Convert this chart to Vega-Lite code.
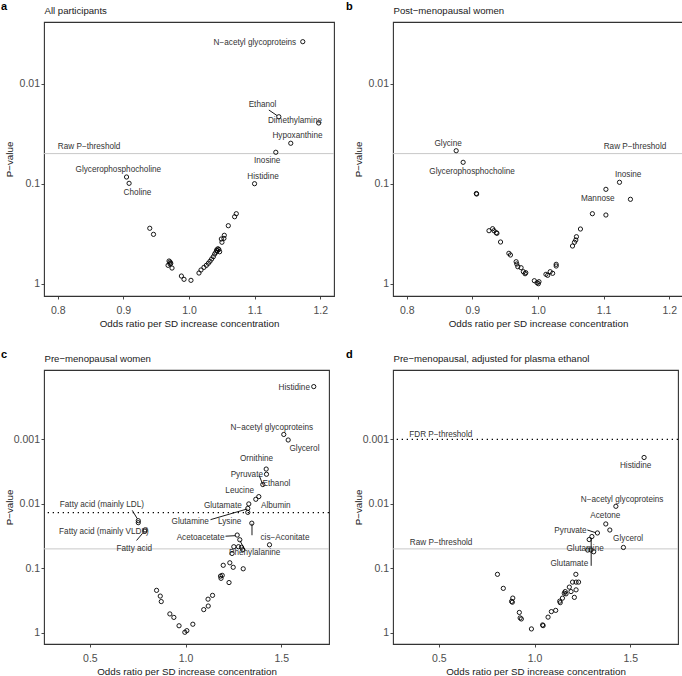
{
  "$schema": "https://vega.github.io/schema/vega-lite/v6.json",
  "padding": {"left": 0, "top": 0, "right": 0, "bottom": 0},
  "columns": 2,
  "spacing": {"row": 74, "column": 59},
  "bounds": "flush",
  "datasets": {
    "a_points": [
      {"or":1.1734,"p":0.0038},{"or":1.1369,"p":0.0214},{"or":1.1977,"p":0.0247},{"or":1.1551,"p":0.0394},{"or":1.1323,"p":0.0485},{"or":1.0999,"p":0.100},{"or":0.9048,"p":0.0857},{"or":0.9087,"p":0.0991},{"or":0.9402,"p":0.279},{"or":0.9459,"p":0.321},{"or":0.9696,"p":0.593},{"or":0.9711,"p":0.607},{"or":0.9722,"p":0.625},{"or":0.9681,"p":0.655},{"or":0.9741,"p":0.697},{"or":0.9711,"p":0.635},{"or":0.9884,"p":0.838},{"or":0.9924,"p":0.904},{"or":1.003,"p":0.925},{"or":1.0152,"p":0.782},{"or":1.0183,"p":0.729},{"or":1.0228,"p":0.686},{"or":1.0265,"p":0.655},{"or":1.0295,"p":0.625},{"or":1.032,"p":0.597},{"or":1.0345,"p":0.566},{"or":1.0371,"p":0.537},{"or":1.0391,"p":0.505},{"or":1.0421,"p":0.460},{"or":1.0441,"p":0.447},{"or":1.0467,"p":0.479},{"or":1.041,"p":0.485},{"or":1.0502,"p":0.385},{"or":1.0493,"p":0.357},{"or":1.0538,"p":0.328},{"or":1.0532,"p":0.352},{"or":1.0599,"p":0.263},{"or":1.0695,"p":0.214},{"or":1.0721,"p":0.1995},{"or":1.0431,"p":0.468},{"or":1.0455,"p":0.455}
    ],
    "a_labels": [
      {"label":"N−acetyl glycoproteins","or":1.1004,"p":0.00389},
      {"label":"Ethanol","or":1.1121,"p":0.01644},
      {"label":"Dimethylamine","or":1.1615,"p":0.02377},
      {"label":"Hypoxanthine","or":1.1653,"p":0.03357},
      {"label":"Inosine","or":1.1192,"p":0.0597},
      {"label":"Histidine","or":1.1129,"p":0.0851},
      {"label":"Glycerophosphocholine","or":0.8923,"p":0.0735},
      {"label":"Choline","or":0.9215,"p":0.123}
    ],
    "a_segs": [
      {"or":1.1217,"p":0.01832,"or2":1.1341,"p2":0.0208}
    ],
    "a_raw": [{"p":0.05}],
    "a_thr_text": [{"label":"Raw P−threshold","or":0.8,"p":0.043}],
    "b_points": [
      {"or":0.8753,"p":0.0468},{"or":0.8859,"p":0.0611},{"or":0.906,"p":0.1253},{"or":0.9065,"p":0.1268},{"or":0.9253,"p":0.2951},{"or":0.9308,"p":0.2818},{"or":0.9329,"p":0.2951},{"or":0.9364,"p":0.309},{"or":0.9374,"p":0.3133},{"or":0.9429,"p":0.3828},{"or":0.9556,"p":0.4966},{"or":0.958,"p":0.5164},{"or":0.9667,"p":0.6026},{"or":0.9677,"p":0.6353},{"or":0.9692,"p":0.6761},{"or":0.9742,"p":0.6918},{"or":0.9777,"p":0.7586},{"or":0.9814,"p":0.7762},{"or":0.9803,"p":0.7943},{"or":0.9944,"p":0.9333},{"or":0.9985,"p":0.9772},{"or":1.0015,"p":0.955},{"or":1.0005,"p":1.0},{"or":1.0121,"p":0.8054},{"or":1.0147,"p":0.8241},{"or":1.0186,"p":0.7586},{"or":1.0223,"p":0.787},{"or":1.0277,"p":0.6397},{"or":1.0277,"p":0.6653},{"or":1.0526,"p":0.4198},{"or":1.0556,"p":0.3855},{"or":1.0576,"p":0.3656},{"or":1.0586,"p":0.3388},{"or":1.0647,"p":0.2838},{"or":1.0829,"p":0.1995},{"or":1.1035,"p":0.2056},{"or":1.1035,"p":0.1138},{"or":1.1242,"p":0.0968},{"or":1.1409,"p":0.1432}
    ],
    "b_labels": [
      {"label":"Glycine","or":0.863,"p":0.0401},
      {"label":"Glycerophosphocholine","or":0.8995,"p":0.0764},
      {"label":"Mannose","or":1.0912,"p":0.1413},
      {"label":"Inosine","or":1.1374,"p":0.0824}
    ],
    "b_raw": [{"p":0.05}],
    "b_thr_text": [{"label":"Raw P−threshold","or":1.1955,"p":0.043}],
    "c_points": [
      {"or":1.6703,"p":0.000151},{"or":1.5136,"p":0.000836},{"or":1.5366,"p":0.001019},{"or":1.4216,"p":0.00288},{"or":1.4232,"p":0.00347},{"or":1.4039,"p":0.00501},{"or":1.383,"p":0.00771},{"or":1.3673,"p":0.00849},{"or":1.3307,"p":0.01002},{"or":1.3255,"p":0.01175},{"or":1.3255,"p":0.01355},{"or":1.3464,"p":0.01995},{"or":1.2701,"p":0.0305},{"or":1.2837,"p":0.0361},{"or":1.2524,"p":0.0463},{"or":1.2769,"p":0.0463},{"or":1.2926,"p":0.0472},{"or":1.2994,"p":0.0515},{"or":1.243,"p":0.0589},{"or":1.4389,"p":0.0432},{"or":1.197,"p":0.0899},{"or":1.2315,"p":0.0822},{"or":1.2492,"p":0.0966},{"or":1.3015,"p":0.1019},{"or":1.1829,"p":0.1324},{"or":1.1855,"p":0.1432},{"or":1.1917,"p":0.1288},{"or":1.2273,"p":0.1667},{"or":1.1411,"p":0.2636},{"or":1.1176,"p":0.302},{"or":1.1186,"p":0.386},{"or":1.0951,"p":0.4385},{"or":0.8485,"p":0.2203},{"or":0.8678,"p":0.2704},{"or":0.873,"p":0.3289},{"or":0.918,"p":0.5117},{"or":0.9389,"p":0.5794},{"or":0.966,"p":0.7816},{"or":0.9963,"p":0.9863},{"or":1.0068,"p":0.931},{"or":1.0381,"p":0.7396},{"or":0.7529,"p":0.01824},{"or":0.7529,"p":0.01959},{"or":0.7884,"p":0.02535},{"or":0.7874,"p":0.02655}
    ],
    "c_labels": [
      {"label":"Histidine","or":1.5684,"p":0.0001567},
      {"label":"N−acetyl glycoproteins","or":1.4509,"p":0.0006745},
      {"label":"Glycerol","or":1.6217,"p":0.001429},
      {"label":"Ornithine","or":1.371,"p":0.001995},
      {"label":"Pyruvate","or":1.3203,"p":0.00354},
      {"label":"Ethanol","or":1.4754,"p":0.004887},
      {"label":"Leucine","or":1.2832,"p":0.006295},
      {"label":"Albumin","or":1.4718,"p":0.01091},
      {"label":"Glutamate","or":1.1949,"p":0.01091},
      {"label":"Glutamine","or":1.0246,"p":0.01888},
      {"label":"Lysine","or":1.2309,"p":0.01888},
      {"label":"Acetoacetate","or":1.0784,"p":0.03357},
      {"label":"cis−Aconitate","or":1.5199,"p":0.03388},
      {"label":"Phenylalanine","or":1.3615,"p":0.05888},
      {"label":"Fatty acid (mainly LDL)","or":0.5627,"p":0.01054},
      {"label":"Fatty acid (mainly VLDL)","or":0.5731,"p":0.02773},
      {"label":"Fatty acid","or":0.732,"p":0.0498}
    ],
    "c_segs": [
      {"or":0.7215,"p":0.01262,"or2":0.7476,"p2":0.01698},
      {"or":0.744,"p":0.037,"or2":0.7738,"p2":0.02904},
      {"or":1.385,"p":0.00363,"or2":1.4039,"p2":0.00501},
      {"or":1.1306,"p":0.01758,"or2":1.3224,"p2":0.012},
      {"or":1.209,"p":0.03177,"or2":1.2612,"p2":0.03119},
      {"or":1.2847,"p":0.03733,"or2":1.3109,"p2":0.05248},
      {"or":1.3474,"p":0.02032,"or2":1.3474,"p2":0.03069}
    ],
    "c_raw": [{"p":0.05}],
    "c_fdr": [{"p":0.0137}],
    "d_points": [
      {"or":1.5727,"p":0.001905},{"or":1.4252,"p":0.01091},{"or":1.3725,"p":0.02051},{"or":1.3936,"p":0.02547},{"or":1.3288,"p":0.02831},{"or":1.2998,"p":0.03214},{"or":1.2856,"p":0.03581},{"or":1.295,"p":0.05212},{"or":1.2777,"p":0.05212},{"or":1.3093,"p":0.05546},{"or":1.4647,"p":0.04753},{"or":1.216,"p":0.1242},{"or":1.1986,"p":0.1641},{"or":1.2171,"p":0.1641},{"or":1.2302,"p":0.1641},{"or":1.1818,"p":0.1963},{"or":1.1907,"p":0.2301},{"or":1.1602,"p":0.2301},{"or":1.1554,"p":0.2438},{"or":1.1644,"p":0.2495},{"or":1.2171,"p":0.2163},{"or":1.2081,"p":0.2831},{"or":1.1459,"p":0.2911},{"or":1.1317,"p":0.3243},{"or":1.1344,"p":0.342},{"or":1.1106,"p":0.4508},{"or":1.088,"p":0.471},{"or":1.0706,"p":0.5741},{"or":1.0421,"p":0.7586},{"or":1.0448,"p":0.778},{"or":0.9837,"p":0.875},{"or":0.931,"p":0.6124},{"or":0.9247,"p":0.5902},{"or":0.9204,"p":0.4853},{"or":0.8862,"p":0.2904},{"or":0.8841,"p":0.3365},{"or":0.8799,"p":0.3266},{"or":0.8367,"p":0.2051},{"or":0.8061,"p":0.1242}
    ],
    "d_labels": [
      {"label":"Histidine","or":1.5285,"p":0.002606},
      {"label":"N−acetyl glycoproteins","or":1.4578,"p":0.00859},
      {"label":"Acetone","or":1.3699,"p":0.01524},
      {"label":"Pyruvate","or":1.1881,"p":0.02636},
      {"label":"Glycerol","or":1.4892,"p":0.03565},
      {"label":"Glutamine","or":1.2645,"p":0.04977},
      {"label":"Glutamate","or":1.1818,"p":0.08511}
    ],
    "d_segs": [
      {"or":1.2761,"p":0.02547,"or2":1.3198,"p2":0.02805},
      {"or":1.2961,"p":0.09162,"or2":1.2961,"p2":0.03357}
    ],
    "d_raw": [{"p":0.05}],
    "d_fdr": [{"p":0.001}],
    "d_thr_text": [{"label":"FDR P−threshold","or":0.345,"p":0.000845},{"label":"Raw P−threshold","or":0.348,"p":0.0401}]
  },
  "concat": [
    {
      "width": 290, "height": 274,
      "title": {"text": "a", "anchor": "start", "frame": "group", "dx": -43, "offset": -15.7, "fontSize": 11, "fontWeight": "bold", "baseline": "alphabetic", "color": "#000000"},
      "layer": [
        {"mark": {"type": "rule", "color": "#c8c8c8", "strokeWidth": 1},
         "encoding": {"x": {"datum": 1, "type": "quantitative", "scale": {"domain": [0.779, 1.221], "zero": false, "nice": false},
           "axis": {"orient": "top", "title": "All participants", "labels": false, "ticks": false, "domain": false, "titleAnchor": "start", "titleAlign": "left", "titleBaseline": "alphabetic", "titleX": 0, "titleY": -9, "titleAngle": 0, "titleFontSize": 9.6}}}},
        {"data": {"name": "a_raw"}, "mark": {"type": "rule", "color": "#c8c8c8", "strokeWidth": 1},
         "encoding": {"y": {"field": "p", "type": "quantitative", "scale": {"type": "log", "domain": [0.002415, 1.327], "reverse": true, "nice": false},
           "axis": {"orient": "left", "title": "P−value", "values": [0.01, 0.1, 1], "format": "~g"}}}},
        {"data": {"name": "a_thr_text"}, "mark": {"type": "text", "align": "left", "baseline": "middle", "fontSize": 8.2},
         "encoding": {"x": {"field": "or", "type": "quantitative", "scale": {"domain": [0.779, 1.221], "zero": false, "nice": false}, "axis": null},
           "y": {"field": "p", "type": "quantitative", "scale": {"type": "log", "domain": [0.002415, 1.327], "reverse": true, "nice": false},
             "axis": {"orient": "left", "title": "P−value", "values": [0.01, 0.1, 1], "format": "~g"}},
           "text": {"field": "label"}}},
        {"data": {"name": "a_segs"}, "mark": {"type": "rule", "color": "#000000", "strokeWidth": 0.9},
         "encoding": {"x": {"field": "or", "type": "quantitative", "scale": {"domain": [0.779, 1.221], "zero": false, "nice": false}, "axis": null},
           "y": {"field": "p", "type": "quantitative", "scale": {"type": "log", "domain": [0.002415, 1.327], "reverse": true, "nice": false},
             "axis": {"orient": "left", "title": "P−value", "values": [0.01, 0.1, 1], "format": "~g"}},
           "x2": {"field": "or2"}, "y2": {"field": "p2"}}},
        {"data": {"name": "a_points"}, "mark": {"type": "point", "shape": "circle", "filled": false, "stroke": "#000000", "strokeWidth": 0.9, "size": 18, "opacity": 1},
         "encoding": {"x": {"field": "or", "type": "quantitative", "scale": {"domain": [0.779, 1.221], "zero": false, "nice": false},
             "axis": {"orient": "bottom", "title": "Odds ratio per SD increase concentration", "values": [0.8, 0.9, 1.0, 1.1, 1.2], "format": ".1f"}},
           "y": {"field": "p", "type": "quantitative", "scale": {"type": "log", "domain": [0.002415, 1.327], "reverse": true, "nice": false},
             "axis": {"orient": "left", "title": "P−value", "values": [0.01, 0.1, 1], "format": "~g"}}}},
        {"data": {"name": "a_labels"}, "mark": {"type": "text", "align": "center", "baseline": "middle", "fontSize": 8.2},
         "encoding": {"x": {"field": "or", "type": "quantitative", "scale": {"domain": [0.779, 1.221], "zero": false, "nice": false}, "axis": null},
           "y": {"field": "p", "type": "quantitative", "scale": {"type": "log", "domain": [0.002415, 1.327], "reverse": true, "nice": false},
             "axis": {"orient": "left", "title": "P−value", "values": [0.01, 0.1, 1], "format": "~g"}},
           "text": {"field": "label"}}}
      ]
    },
    {
      "width": 290, "height": 274,
      "title": {"text": "b", "anchor": "start", "frame": "group", "dx": -47, "offset": -15.7, "fontSize": 11, "fontWeight": "bold", "baseline": "alphabetic", "color": "#000000"},
      "layer": [
        {"mark": {"type": "rule", "color": "#c8c8c8", "strokeWidth": 1},
         "encoding": {"x": {"datum": 1, "type": "quantitative", "scale": {"domain": [0.779, 1.221], "zero": false, "nice": false},
           "axis": {"orient": "top", "title": "Post−menopausal women", "labels": false, "ticks": false, "domain": false, "titleAnchor": "start", "titleAlign": "left", "titleBaseline": "alphabetic", "titleX": 0, "titleY": -9, "titleAngle": 0, "titleFontSize": 9.6}}}},
        {"data": {"name": "b_raw"}, "mark": {"type": "rule", "color": "#c8c8c8", "strokeWidth": 1},
         "encoding": {"y": {"field": "p", "type": "quantitative", "scale": {"type": "log", "domain": [0.002415, 1.327], "reverse": true, "nice": false},
           "axis": {"orient": "left", "title": "P−value", "values": [0.01, 0.1, 1], "format": "~g"}}}},
        {"data": {"name": "b_thr_text"}, "mark": {"type": "text", "align": "right", "baseline": "middle", "fontSize": 8.2},
         "encoding": {"x": {"field": "or", "type": "quantitative", "scale": {"domain": [0.779, 1.221], "zero": false, "nice": false}, "axis": null},
           "y": {"field": "p", "type": "quantitative", "scale": {"type": "log", "domain": [0.002415, 1.327], "reverse": true, "nice": false},
             "axis": {"orient": "left", "title": "P−value", "values": [0.01, 0.1, 1], "format": "~g"}},
           "text": {"field": "label"}}},
        {"data": {"name": "b_points"}, "mark": {"type": "point", "shape": "circle", "filled": false, "stroke": "#000000", "strokeWidth": 0.9, "size": 18, "opacity": 1},
         "encoding": {"x": {"field": "or", "type": "quantitative", "scale": {"domain": [0.779, 1.221], "zero": false, "nice": false},
             "axis": {"orient": "bottom", "title": "Odds ratio per SD increase concentration", "values": [0.8, 0.9, 1.0, 1.1, 1.2], "format": ".1f"}},
           "y": {"field": "p", "type": "quantitative", "scale": {"type": "log", "domain": [0.002415, 1.327], "reverse": true, "nice": false},
             "axis": {"orient": "left", "title": "P−value", "values": [0.01, 0.1, 1], "format": "~g"}}}},
        {"data": {"name": "b_labels"}, "mark": {"type": "text", "align": "center", "baseline": "middle", "fontSize": 8.2},
         "encoding": {"x": {"field": "or", "type": "quantitative", "scale": {"domain": [0.779, 1.221], "zero": false, "nice": false}, "axis": null},
           "y": {"field": "p", "type": "quantitative", "scale": {"type": "log", "domain": [0.002415, 1.327], "reverse": true, "nice": false},
             "axis": {"orient": "left", "title": "P−value", "values": [0.01, 0.1, 1], "format": "~g"}},
           "text": {"field": "label"}}}
      ]
    },
    {
      "width": 285, "height": 274,
      "title": {"text": "c", "anchor": "start", "frame": "group", "dx": -43, "offset": -15.7, "fontSize": 11, "fontWeight": "bold", "baseline": "alphabetic", "color": "#000000"},
      "layer": [
        {"mark": {"type": "rule", "color": "#c8c8c8", "strokeWidth": 1},
         "encoding": {"x": {"datum": 1, "type": "quantitative", "scale": {"domain": [0.26, 1.75], "zero": false, "nice": false},
           "axis": {"orient": "top", "title": "Pre−menopausal women", "labels": false, "ticks": false, "domain": false, "titleAnchor": "start", "titleAlign": "left", "titleBaseline": "alphabetic", "titleX": 0, "titleY": -9, "titleAngle": 0, "titleFontSize": 9.6}}}},
        {"data": {"name": "c_raw"}, "mark": {"type": "rule", "color": "#c8c8c8", "strokeWidth": 1},
         "encoding": {"y": {"field": "p", "type": "quantitative", "scale": {"type": "log", "domain": [0.0000834, 1.5], "reverse": true, "nice": false},
           "axis": {"orient": "left", "title": "P−value", "values": [0.001, 0.01, 0.1, 1], "format": "~g"}}}},
        {"data": {"name": "c_fdr"}, "mark": {"type": "rule", "color": "#000000", "strokeWidth": 1.3, "strokeDash": [1.3, 3.7]},
         "encoding": {"y": {"field": "p", "type": "quantitative", "scale": {"type": "log", "domain": [0.0000834, 1.5], "reverse": true, "nice": false},
           "axis": {"orient": "left", "title": "P−value", "values": [0.001, 0.01, 0.1, 1], "format": "~g"}}}},
        {"data": {"name": "c_segs"}, "mark": {"type": "rule", "color": "#000000", "strokeWidth": 0.9},
         "encoding": {"x": {"field": "or", "type": "quantitative", "scale": {"domain": [0.26, 1.75], "zero": false, "nice": false}, "axis": null},
           "y": {"field": "p", "type": "quantitative", "scale": {"type": "log", "domain": [0.0000834, 1.5], "reverse": true, "nice": false},
             "axis": {"orient": "left", "title": "P−value", "values": [0.001, 0.01, 0.1, 1], "format": "~g"}},
           "x2": {"field": "or2"}, "y2": {"field": "p2"}}},
        {"data": {"name": "c_points"}, "mark": {"type": "point", "shape": "circle", "filled": false, "stroke": "#000000", "strokeWidth": 0.9, "size": 18, "opacity": 1},
         "encoding": {"x": {"field": "or", "type": "quantitative", "scale": {"domain": [0.26, 1.75], "zero": false, "nice": false},
             "axis": {"orient": "bottom", "title": "Odds ratio per SD increase concentration", "values": [0.5, 1.0, 1.5], "format": ".1f"}},
           "y": {"field": "p", "type": "quantitative", "scale": {"type": "log", "domain": [0.0000834, 1.5], "reverse": true, "nice": false},
             "axis": {"orient": "left", "title": "P−value", "values": [0.001, 0.01, 0.1, 1], "format": "~g"}}}},
        {"data": {"name": "c_labels"}, "mark": {"type": "text", "align": "center", "baseline": "middle", "fontSize": 8.2},
         "encoding": {"x": {"field": "or", "type": "quantitative", "scale": {"domain": [0.26, 1.75], "zero": false, "nice": false}, "axis": null},
           "y": {"field": "p", "type": "quantitative", "scale": {"type": "log", "domain": [0.0000834, 1.5], "reverse": true, "nice": false},
             "axis": {"orient": "left", "title": "P−value", "values": [0.001, 0.01, 0.1, 1], "format": "~g"}},
           "text": {"field": "label"}}}
      ]
    },
    {
      "width": 285, "height": 274,
      "title": {"text": "d", "anchor": "start", "frame": "group", "dx": -47, "offset": -15.7, "fontSize": 11, "fontWeight": "bold", "baseline": "alphabetic", "color": "#000000"},
      "layer": [
        {"mark": {"type": "rule", "color": "#d4d4d4", "strokeWidth": 1.8},
         "encoding": {"x": {"datum": 1, "type": "quantitative", "scale": {"domain": [0.26, 1.75], "zero": false, "nice": false},
           "axis": {"orient": "top", "title": "Pre−menopausal, adjusted for plasma ethanol", "labels": false, "ticks": false, "domain": false, "titleAnchor": "start", "titleAlign": "left", "titleBaseline": "alphabetic", "titleX": 0, "titleY": -9, "titleAngle": 0, "titleFontSize": 9.6}}}},
        {"data": {"name": "d_raw"}, "mark": {"type": "rule", "color": "#c8c8c8", "strokeWidth": 1},
         "encoding": {"y": {"field": "p", "type": "quantitative", "scale": {"type": "log", "domain": [0.0000834, 1.5], "reverse": true, "nice": false},
           "axis": {"orient": "left", "title": "P−value", "values": [0.001, 0.01, 0.1, 1], "format": "~g"}}}},
        {"data": {"name": "d_fdr"}, "mark": {"type": "rule", "color": "#000000", "strokeWidth": 1.3, "strokeDash": [1.3, 3.7]},
         "encoding": {"y": {"field": "p", "type": "quantitative", "scale": {"type": "log", "domain": [0.0000834, 1.5], "reverse": true, "nice": false},
           "axis": {"orient": "left", "title": "P−value", "values": [0.001, 0.01, 0.1, 1], "format": "~g"}}}},
        {"data": {"name": "d_thr_text"}, "mark": {"type": "text", "align": "left", "baseline": "middle", "fontSize": 8.2},
         "encoding": {"x": {"field": "or", "type": "quantitative", "scale": {"domain": [0.26, 1.75], "zero": false, "nice": false}, "axis": null},
           "y": {"field": "p", "type": "quantitative", "scale": {"type": "log", "domain": [0.0000834, 1.5], "reverse": true, "nice": false},
             "axis": {"orient": "left", "title": "P−value", "values": [0.001, 0.01, 0.1, 1], "format": "~g"}},
           "text": {"field": "label"}}},
        {"data": {"name": "d_segs"}, "mark": {"type": "rule", "color": "#000000", "strokeWidth": 0.9},
         "encoding": {"x": {"field": "or", "type": "quantitative", "scale": {"domain": [0.26, 1.75], "zero": false, "nice": false}, "axis": null},
           "y": {"field": "p", "type": "quantitative", "scale": {"type": "log", "domain": [0.0000834, 1.5], "reverse": true, "nice": false},
             "axis": {"orient": "left", "title": "P−value", "values": [0.001, 0.01, 0.1, 1], "format": "~g"}},
           "x2": {"field": "or2"}, "y2": {"field": "p2"}}},
        {"data": {"name": "d_points"}, "mark": {"type": "point", "shape": "circle", "filled": false, "stroke": "#000000", "strokeWidth": 0.9, "size": 18, "opacity": 1},
         "encoding": {"x": {"field": "or", "type": "quantitative", "scale": {"domain": [0.26, 1.75], "zero": false, "nice": false},
             "axis": {"orient": "bottom", "title": "Odds ratio per SD increase concentration", "values": [0.5, 1.0, 1.5], "format": ".1f"}},
           "y": {"field": "p", "type": "quantitative", "scale": {"type": "log", "domain": [0.0000834, 1.5], "reverse": true, "nice": false},
             "axis": {"orient": "left", "title": "P−value", "values": [0.001, 0.01, 0.1, 1], "format": "~g"}}}},
        {"data": {"name": "d_labels"}, "mark": {"type": "text", "align": "center", "baseline": "middle", "fontSize": 8.2},
         "encoding": {"x": {"field": "or", "type": "quantitative", "scale": {"domain": [0.26, 1.75], "zero": false, "nice": false}, "axis": null},
           "y": {"field": "p", "type": "quantitative", "scale": {"type": "log", "domain": [0.0000834, 1.5], "reverse": true, "nice": false},
             "axis": {"orient": "left", "title": "P−value", "values": [0.001, 0.01, 0.1, 1], "format": "~g"}},
           "text": {"field": "label"}}}
      ]
    }
  ],
  "config": {
    "font": "Liberation Sans",
    "view": {"stroke": "#333333", "strokeWidth": 1.1},
    "axis": {"grid": false, "domain": false, "tickColor": "#333333", "tickSize": 3, "tickWidth": 0.9, "labelFont": "Liberation Sans", "labelFontSize": 10.5, "labelColor": "#4d4d4d", "labelPadding": 1.5, "titleFont": "Liberation Sans", "titleFontSize": 9.8, "titleFontWeight": "normal", "titleColor": "#1a1a1a"},
    "axisLeft": {"minExtent": 24, "maxExtent": 24, "titlePadding": 6},
    "axisBottom": {"minExtent": 16, "maxExtent": 16, "titlePadding": 6.5, "labelPadding": 6.5},
    "text": {"font": "Liberation Sans", "color": "#333333"},
    "title": {"font": "Liberation Sans"}
  }
}
